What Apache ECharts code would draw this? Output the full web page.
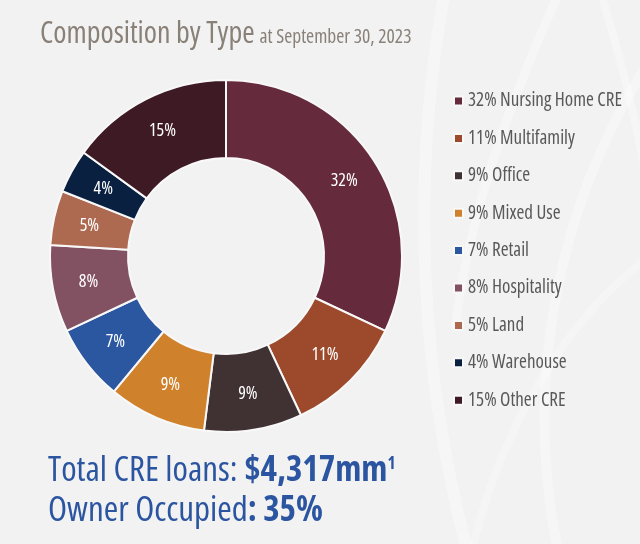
<!DOCTYPE html>
<html><head><meta charset="utf-8">
<script src="https://cdn.jsdelivr.net/npm/echarts@6/dist/echarts.min.js"></script>
<style>html,body{margin:0;padding:0;background:#f2f2f2;}#c{width:640px;height:544px;}</style>
</head><body><div id="c"></div>
<script>
const categories = ['Nursing Home CRE','Multifamily','Office','Mixed Use','Retail','Hospitality','Land','Warehouse','Other CRE'];
const shares = [32, 11, 9, 9, 7, 8, 5, 4, 15];
const colors = ['#662a3d','#9c4a2b','#403233','#d0812c','#2b57a0','#835262','#ad6a50','#0a2040','#3e1a24'];
const titleMain = 'Composition by Type';
const titleSub = 'at September 30, 2023';
const totalLabel = 'Total CRE loans: ';
const totalValue = '$4,317mm';
const ownerLabel = 'Owner Occupied';
const ownerValue = ': 35%';

const FONT = '"Open Sans", sans-serif';
const COND = 'condensed';
const chart = echarts.init(document.getElementById('c'));
const data = categories.map((n,i)=>({name:n, value:shares[i], itemStyle:{color:colors[i]}}));
const band = (pts, w, a) => ({type:'bezierCurve', silent:true, z:-10,
  shape:{x1:pts[0],y1:pts[1],cpx1:pts[2],cpy1:pts[3],cpx2:pts[4],cpy2:pts[5],x2:pts[6],y2:pts[7]},
  style:{stroke:'rgba(255,255,255,'+a+')',lineWidth:w,fill:null}});
chart.setOption({
  backgroundColor:'#f2f2f2',
  animation:false,
  title:{
    text:'{a|'+titleMain+'} {b|'+titleSub+'}',
    left:35, top:14,
    textStyle:{rich:{
      a:{fontFamily:FONT,fontWeight:COND,fontSize:30,color:'#898078'},
      b:{fontFamily:FONT,fontWeight:COND,fontSize:19.5,color:'#898078',padding:[7,0,0,0]}
    }}
  },
  legend:{
    orient:'vertical', left:448, top:86.5,
    itemWidth:9, itemHeight:9, itemGap:18.4, icon:'rect',
    textStyle:{fontFamily:FONT,fontWeight:COND,fontSize:19,lineHeight:19,color:'#595959'},
    formatter:function(name){const i=categories.indexOf(name);return shares[i]+'% '+name;},
    data:categories
  },
  series:[{
    type:'pie', center:[226,256], radius:[98,176], startAngle:90, clockwise:true,
    itemStyle:{borderColor:'#f8f8f8',borderWidth:2},
    label:{position:'inside',formatter:'{c}%',color:'#ffffff',fontFamily:FONT,fontWeight:COND,fontSize:18},
    labelLine:{show:false},
    emphasis:{disabled:true},
    data:data
  }],
  graphic:[
    band([445,-10, 410,180, 420,380, 470,560], 12, 0.35),
    band([560,-10, 520,80, 470,200, 455,330], 9, 0.3),
    band([650,60, 560,200, 520,380, 560,560], 10, 0.3),
    band([600,-10, 640,120, 650,200, 660,260], 8, 0.3),
    band([470,560, 500,420, 580,300, 660,250], 8, 0.25),
    {type:'text',left:48,top:454,style:{
      text:'{a|'+totalLabel+'}{b|'+totalValue+'}{c|1}',
      rich:{a:{fontFamily:FONT,fontWeight:COND,fontSize:35,fill:'#2b55a0'},
            b:{fontFamily:FONT,fontWeight:COND+' bold',fontSize:35,fill:'#2b55a0'},
            c:{fontFamily:FONT,fontWeight:COND+' bold',fontSize:17,fill:'#2b55a0',padding:[0,0,14,0]}}}},
    {type:'text',left:48,top:494,style:{
      text:'{a|'+ownerLabel+'}{b|'+ownerValue+'}',
      rich:{a:{fontFamily:FONT,fontWeight:COND,fontSize:35,fill:'#2b55a0'},
            b:{fontFamily:FONT,fontWeight:COND+' bold',fontSize:35,fill:'#2b55a0'}}}}
  ]
});
</script></body></html>
